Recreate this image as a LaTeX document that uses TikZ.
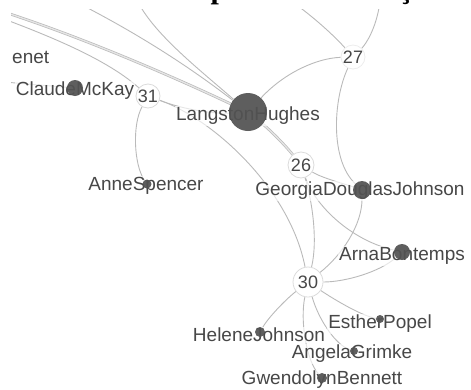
\documentclass[tikz,border=0pt]{standalone}
\usepackage{fontspec}
\setmainfont{Liberation Serif}
\setsansfont{Liberation Sans}
\usetikzlibrary{positioning}
\pgfdeclarelayer{background}
\pgfsetlayers{background,main}

\begin{document}
\begin{tikzpicture}[
  x=1pt, y=-1pt,
  font=\sffamily,
  link/.style={draw=black!27, line width=0.9pt},
  twin/.style={draw=black!27, double=black!10, double distance=1.3pt, line width=0.7pt},
  person/.style={circle, fill=black!68, draw=none, inner sep=0pt, minimum size=#1, opacity=0.93},
  hub/.style={circle, draw=black!14, line width=0.8pt, fill=white, inner sep=0pt,
    minimum size=#1, font=\sffamily\fontsize{18}{18}\selectfont, text=black!72},
  lab/.style={font=\sffamily\fontsize{19}{19}\selectfont, text=black!72,
    fill=white, fill opacity=0.65, text opacity=1, inner sep=1pt}
]
\useasboundingbox (0,0) rectangle (471,389);
\clip (0,0) rectangle (471,389);

% --- title line, cut at the top ---
\node[anchor=base west, inner sep=0pt, font=\rmfamily\bfseries\fontsize{30}{30}\selectfont]
  (head) at (12,-1.5) {inativas como “poesia” ou “ficção”};

% --- free ends of links leaving the frame ---
\coordinate (w1) at (4,12);
\coordinate (w2) at (4,19);
\coordinate (w3) at (4,82);
\coordinate (n1) at (80,4);
\coordinate (n2) at (138,2);
\coordinate (n3) at (294,3);
\coordinate (n4) at (380,2);

% --- labels ---
\node[lab, anchor=west] (enet) at (11,57) {enet};
\node[lab] (cm-l) at (75,91) {ClaudeMcKay};
\node[lab] (lh-l) at (248,116) {LangstonHughes};
\node[lab] (as-l) at (146,186) {AnneSpencer};
\node[lab] (gdj-l) at (360,191) {GeorgiaDouglasJohnson};
\node[lab] (ab-l) at (402,256) {ArnaBontemps};
\node[lab] (ep-l) at (380,324) {EstherPopel};
\node[lab] (hj-l) at (259,335) {HeleneJohnson};
\node[lab] (ag-l) at (352,354) {AngelaGrimke};
\node[lab] (gb-l) at (322,380) {GwendolynBennett};

% --- poets ---
\node[person=16] (cm) at (75,88) {};
\node[person=38] (lh) at (248,112) {};
\node[person=9] (as) at (147,184) {};
\node[person=18] (gdj) at (362,190) {};
\node[person=16] (ab) at (402,252) {};
\node[person=8] (ep) at (380,319) {};
\node[person=10] (hj) at (260,332) {};
\node[person=8] (ag) at (354,351) {};
\node[person=10] (gb) at (322,378) {};

% --- numbered works ---
\node[hub=24, draw=black!7] (c27) at (353,57) {27};
\node[hub=24] (c31) at (148,96) {31};
\node[hub=26] (c26) at (301,165) {26};
\node[hub=30] (c30) at (308,282) {30};

% --- links ---
\begin{pgfonlayer}{background}
\clip (11,9) rectangle (471,389);
\draw[twin] (w1) .. controls (90,40) and (180,80) .. (lh);
\draw[link] (w2) .. controls (60,40) and (110,62) .. (c31);
\draw[link] (w3) -- (cm);
\draw[link] (n1) .. controls (150,40) and (200,75) .. (lh);
\draw[link] (n2) .. controls (155,35) and (200,70) .. (lh);
\draw[link] (n3) .. controls (320,22) and (338,40) .. (c27);
\draw[link] (n4) .. controls (376,30) and (365,45) .. (c27);
\draw[link] (lh) .. controls (285,72) and (318,58) .. (c27);
\draw[link] (c27) .. controls (333,100) and (330,160) .. (gdj);
\draw[link] (c31) .. controls (185,110) and (215,114) .. (lh);
\draw[link] (c31) .. controls (132,125) and (134,165) .. (as);
\draw[link] (c31) .. controls (215,120) and (290,190) .. (c30);
\draw[twin] (lh) .. controls (270,130) and (285,145) .. (c26);
\draw[link] (c26) .. controls (322,178) and (345,184) .. (gdj);
\draw[link] (c26) .. controls (312,200) and (318,240) .. (c30);
\draw[link] (c26) .. controls (315,205) and (350,240) .. (ab);
\draw[link] (gdj) .. controls (362,225) and (342,255) .. (c30);
\draw[link] (c30) .. controls (345,282) and (380,272) .. (ab);
\draw[link] (c30) .. controls (285,300) and (268,318) .. (hj);
\draw[link] (c30) .. controls (300,320) and (306,360) .. (gb);
\draw[link] (c30) .. controls (318,318) and (335,345) .. (ag);
\draw[link] (c30) .. controls (335,300) and (362,316) .. (ep);
\end{pgfonlayer}

\end{tikzpicture}
\end{document}
